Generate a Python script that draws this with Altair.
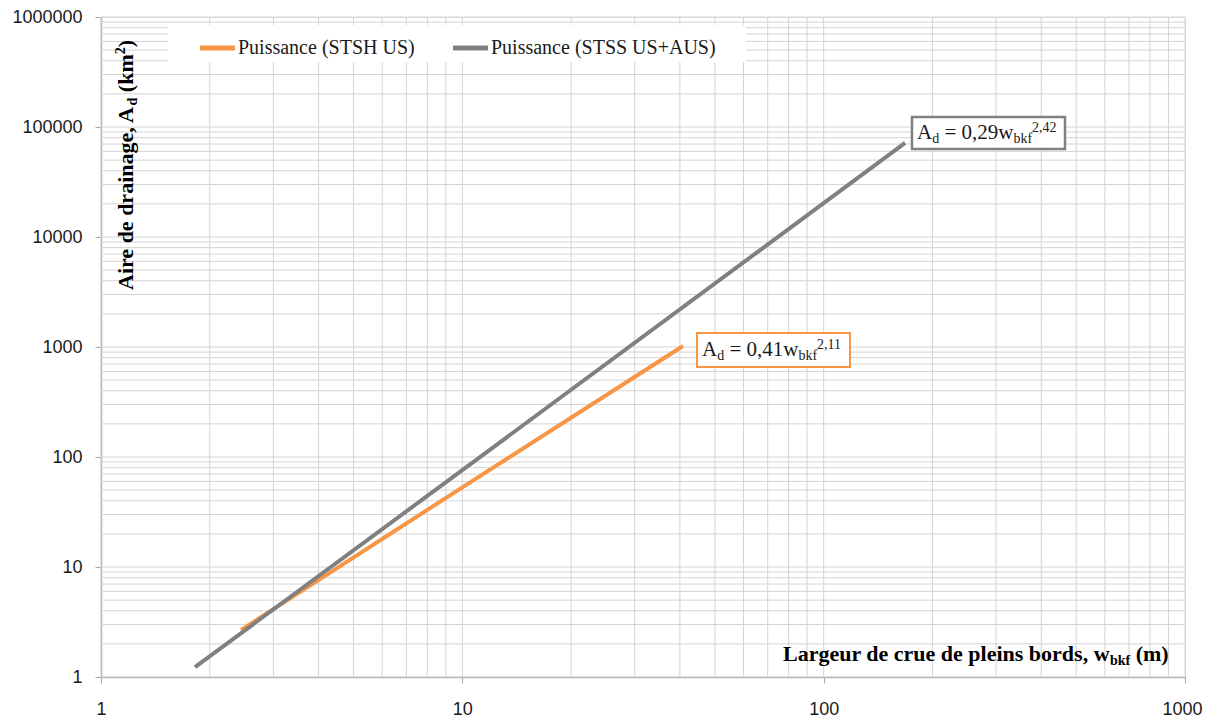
import altair as alt
import pandas as pd

# ---------------- data ----------------
series = ["Puissance (STSH US)", "Puissance (STSS US+AUS)"]
colors = ["#F79646", "#808080"]

stsh_w = [2.44, 10, 40.8]
stsh_a = [2.67, 53, 1021]
stss_w = [1.82, 10, 168]
stss_a = [1.23, 76, 71600]

x_major = [1, 10, 100, 1000]
y_major = [1, 10, 100, 1000, 10000, 100000, 1000000]
x_grid = [m * 10 ** e for e in range(0, 3) for m in range(1, 10)] + [1000]
y_grid = [m * 10 ** e for e in range(0, 6) for m in range(1, 10)] + [1000000]

W, H = 1084, 660
SERIF = "Liberation Serif"
SANS = "Liberation Sans"

# Times / Liberation Serif advance widths (per 1000 em)
TR = {' ': 250, '(': 333, ')': 333, '+': 564, ',': 250, '=': 564, 'A': 722, 'H': 722,
      'P': 556, 'S': 556, 'T': 611, 'U': 722, 'a': 444, 'b': 500, 'c': 444, 'd': 500,
      'e': 444, 'f': 333, 'i': 278, 'k': 500, 'n': 500, 's': 389, 'u': 500, 'w': 722, 'm': 778}
TB = {' ': 250, '(': 333, ')': 333, ',': 250, 'A': 722, 'L': 667, 'a': 500, 'b': 556,
      'c': 444, 'd': 556, 'e': 444, 'f': 333, 'g': 500, 'i': 278, 'k': 556, 'l': 278,
      'm': 833, 'n': 556, 'o': 500, 'p': 556, 'r': 444, 's': 389, 'u': 556, 'w': 722}


def tw(s, size, bold):
    t = TB if bold else TR
    return sum(t.get(c, 500) for c in s) * size / 1000.0


xscale = alt.Scale(type="log", domain=[1, 1000], nice=False)
yscale = alt.Scale(type="log", domain=[1, 1000000], nice=False)

xaxis = alt.Axis(values=x_major, format="d", grid=False, title=None,
                 domainColor="#a6a6a6", domainWidth=1.5, tickColor="#a6a6a6", tickSize=6,
                 labelFont=SANS, labelFontSize=18, labelColor="#1a1a1a", labelPadding=17,
                 labelFlush=False, labelOverlap=False,
                 labelOffset={"condition": {"test": "datum.value == 1000", "value": -3}, "value": 0})
yaxis = alt.Axis(values=y_major, format="d", grid=False, title=None,
                 domainColor="#a6a6a6", domainWidth=1.5, tickColor="#a6a6a6", tickSize=6,
                 labelFont=SANS, labelFontSize=18, labelColor="#1a1a1a", labelPadding=13,
                 labelFlush=False, labelOverlap=False)

X = lambda f: alt.X(f, scale=xscale, axis=xaxis)
Y = lambda f: alt.Y(f, scale=yscale, axis=yaxis)

layers = []

# grid
layers.append(alt.Chart(pd.DataFrame({"gx": x_grid})).mark_rule(color="#d4d4d4", strokeWidth=1)
              .encode(x=X("gx:Q")))
layers.append(alt.Chart(pd.DataFrame({"gy": y_grid})).mark_rule(color="#d4d4d4", strokeWidth=1)
              .encode(y=Y("gy:Q")))

# legend box (covers the grid)
layers.append(alt.Chart(pd.DataFrame({"k": [0]})).mark_rect(fill="white", stroke=None)
              .encode(x=alt.value(67), x2=alt.value(645), y=alt.value(8), y2=alt.value(45)))

# annotation boxes
layers.append(alt.Chart(pd.DataFrame({"k": [0]})).mark_rect(fill="white", stroke=colors[0], strokeWidth=2)
              .encode(x=alt.value(596), x2=alt.value(749), y=alt.value(316), y2=alt.value(350)))
layers.append(alt.Chart(pd.DataFrame({"k": [0]})).mark_rect(fill="white", stroke=colors[1], strokeWidth=2.5)
              .encode(x=alt.value(811), x2=alt.value(964), y=alt.value(100), y2=alt.value(132)))

# lines
df_o = pd.DataFrame({"w": stsh_w, "a": stsh_a, "s": series[0]})
df_g = pd.DataFrame({"w": stss_w, "a": stss_a, "s": series[1]})
cscale = alt.Scale(domain=series, range=colors)
layers.append(alt.Chart(df_o).mark_line(strokeWidth=4, strokeCap="butt")
              .encode(x=X("w:Q"), y=Y("a:Q"), color=alt.Color("s:N", scale=cscale, legend=None)))
layers.append(alt.Chart(df_g).mark_line(strokeWidth=4, strokeCap="butt")
              .encode(x=X("w:Q"), y=Y("a:Q"), color=alt.Color("s:N", scale=cscale, legend=None)))

# legend swatches and texts
for i, (x0, x1, tx) in enumerate([(99, 134, 137), (352, 387, 390)]):
    layers.append(alt.Chart(pd.DataFrame({"k": [0]})).mark_rule(color=colors[i], strokeWidth=5)
                  .encode(x=alt.value(x0), x2=alt.value(x1), y=alt.value(31)))
    layers.append(alt.Chart(pd.DataFrame({"k": [0]}))
                  .mark_text(font=SERIF, fontSize=20, color="#1a1a1a", align="left", baseline="middle")
                  .encode(x=alt.value(tx), y=alt.value(31), text=alt.value(series[i])))


def chain(segs, x0, y0, bold, color, rotated=False):
    """segs: list of (text, size, baseline shift). Horizontal chain, or upward chain when rotated."""
    pos = 0.0
    out = []
    for s, size, shift in segs:
        lead = len(s) - len(s.lstrip(" "))
        start = pos + tw(" " * lead, size, bold)
        txt = s.strip(" ")
        if rotated:
            px, py, ang = x0 + shift, y0 - start, 270
        else:
            px, py, ang = x0 + start, y0 + shift, 0
        out.append(alt.Chart(pd.DataFrame({"k": [0]}))
                   .mark_text(font=SERIF, fontSize=size, fontWeight="bold" if bold else "normal",
                              color=color, align="left", baseline="alphabetic", angle=ang)
                   .encode(x=alt.value(px), y=alt.value(py), text=alt.value(txt)))
        pos += tw(s, size, bold)
    return out


# equation labels
eq_o = [("A", 21, 0), ("d", 14, 4), (" = 0,41w", 21, 0), ("bkf", 14, 4), ("2,11", 14, -7)]
eq_g = [("A", 21, 0), ("d", 14, 4), (" = 0,29w", 21, 0), ("bkf", 14, 4), ("2,42", 14, -7)]
layers += chain(eq_o, 601, 339, False, "#1a1a1a")
layers += chain(eq_g, 816, 122, False, "#1a1a1a")

# axis titles (inside plot area)
xt = [("Largeur de crue de pleins bords, w", 22, 0), ("bkf", 14, 4), (" (m)", 22, 0)]
yt = [("Aire de drainage, A", 22, 0), ("d", 14, 4), (" (km", 22, 0), ("2", 14, -8), (")", 22, 0)]
layers += chain(xt, 682, 644, True, "#000000")
layers += chain(yt, 32, 273, True, "#000000", rotated=True)

chart = alt.layer(*layers).properties(
    width=W, height=H,
    padding={"left": 93, "top": 9, "right": 18, "bottom": 40},
    autosize=alt.AutoSizeParams(type="none"),
).configure_view(stroke=None).configure(background="white")

chart.save("out.html", embed_options={"renderer": "svg", "actions": False})
